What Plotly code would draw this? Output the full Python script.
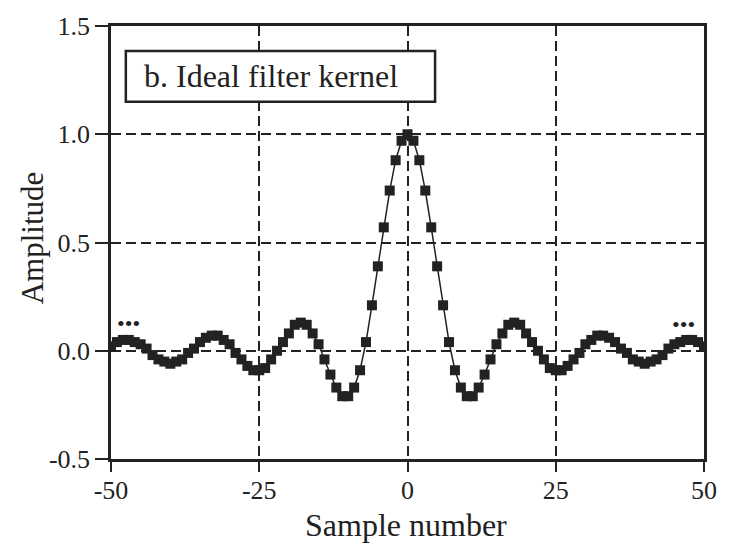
import plotly.graph_objects as go

# Sample numbers (indices) and kernel amplitudes
sample_number = list(range(-50, 51))
amplitude = [
    0.02, 0.04, 0.05, 0.05, 0.04, 0.03, 0.01, -0.02, -0.04, -0.05,
    -0.06, -0.05, -0.04, -0.01, 0.01, 0.04, 0.06, 0.07, 0.07, 0.05,
    0.03, -0.01, -0.04, -0.07, -0.09, -0.09, -0.08, -0.04, 0.00, 0.04,
    0.08, 0.12, 0.13, 0.12, 0.08, 0.03, -0.04, -0.11, -0.17, -0.21,
    -0.21, -0.17, -0.09, 0.04, 0.21, 0.39, 0.57, 0.74, 0.88, 0.97,
    1.00,
    0.97, 0.88, 0.74, 0.57, 0.39, 0.21, 0.04, -0.09, -0.17, -0.21,
    -0.21, -0.17, -0.11, -0.04, 0.03, 0.08, 0.12, 0.13, 0.12, 0.08,
    0.04, 0.00, -0.04, -0.08, -0.09, -0.09, -0.07, -0.04, -0.01, 0.03,
    0.05, 0.07, 0.07, 0.06, 0.04, 0.01, -0.01, -0.04, -0.05, -0.06,
    -0.05, -0.04, -0.02, 0.01, 0.03, 0.04, 0.05, 0.05, 0.04, 0.02,
]

x_tick_vals = [-50, -25, 0, 25, 50]
x_tick_text = ["-50", "-25", "0", "25", "50"]
y_tick_vals = [-0.5, 0.0, 0.5, 1.0, 1.5]
y_tick_text = ["-0.5", "0.0", "0.5", "1.0", "1.5"]

ink = "#222222"
font_family = "Liberation Serif, Times New Roman, serif"

fig = go.Figure()
fig.add_trace(go.Scatter(
    x=sample_number, y=amplitude,
    mode="lines+markers",
    line=dict(color=ink, width=1.5),
    marker=dict(symbol="square", size=10, color=ink),
    showlegend=False,
    hoverinfo="skip",
))

axis_common = dict(
    showline=True, mirror=True, linecolor=ink, linewidth=2.5,
    ticks="outside", tickwidth=2, tickcolor=ink,
    showgrid=True, gridcolor=ink, gridwidth=1.5, griddash="10px,5px",
    zeroline=False,
    tickfont=dict(family=font_family, size=26, color=ink),
)

fig.update_xaxes(range=[-50, 50], tickmode="array", tickvals=x_tick_vals,
                 ticktext=x_tick_text, ticklen=10, ticklabelstandoff=-4,
                 **axis_common)
fig.update_yaxes(range=[-0.5, 1.5], tickmode="array", tickvals=y_tick_vals,
                 ticktext=y_tick_text, ticklen=13, **axis_common)

# label box
fig.add_shape(type="rect", xref="paper", yref="paper",
              x0=0.025, x1=0.5465, y0=0.825, y1=0.9425,
              line=dict(color=ink, width=2.5), fillcolor="white", layer="above")
fig.add_annotation(xref="paper", yref="paper", x=0.0515, y=0.884,
                   xanchor="left", yanchor="middle", showarrow=False,
                   text="b. Ideal filter kernel",
                   font=dict(family=font_family, size=32, color=ink))

# continuation dots
fig.add_annotation(x=-47, y=0.125, showarrow=False, text="•••",
                   font=dict(family=font_family, size=22, color=ink))
fig.add_annotation(x=46.6, y=0.12, showarrow=False, text="•••",
                   font=dict(family=font_family, size=22, color=ink))

# axis titles
fig.add_annotation(xref="paper", yref="paper", x=0.497, y=-0.153,
                   xanchor="center", yanchor="middle", showarrow=False,
                   text="Sample number",
                   font=dict(family=font_family, size=32, color=ink))
fig.add_annotation(xref="paper", yref="paper", x=-0.133, y=0.51,
                   xanchor="center", yanchor="middle", showarrow=False,
                   text="Amplitude", textangle=-90,
                   font=dict(family=font_family, size=31, color=ink))

fig.update_layout(
    width=729, height=544,
    margin=dict(l=111, r=16, t=24, b=85),
    paper_bgcolor="white", plot_bgcolor="white",
    font=dict(family=font_family, color=ink),
)

fig.write_html(
    "out.html",
    config={"displayModeBar": False},
    post_script="document.body.style.margin='0px';"
                "document.body.style.padding='0px';"
                "document.body.style.overflow='hidden';",
)
